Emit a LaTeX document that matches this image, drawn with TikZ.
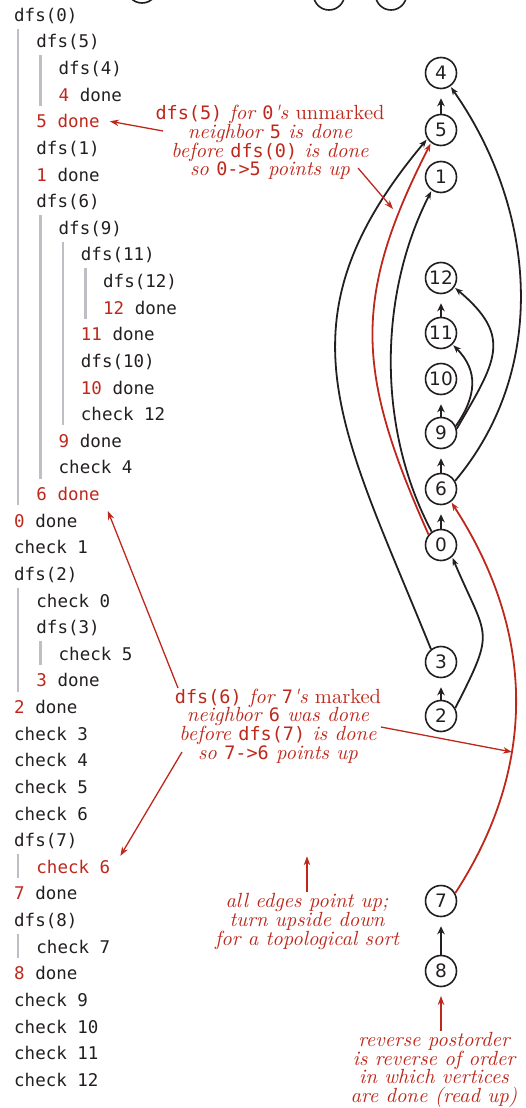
\documentclass[tikz,border=0pt]{standalone}
\usepackage{fontspec}
\setmonofont{DejaVu Sans Mono}
\newfontfamily\vertexfont{DejaVu Sans}
\newfontfamily\notefont[Extension=.otf, UprightFont=*-regular, ItalicFont=*-italic]{lmroman10}
\usetikzlibrary{arrows.meta,positioning}
\definecolor{dfsred}{RGB}{190,40,28}
\definecolor{bargray}{RGB}{190,190,196}
\definecolor{ink}{RGB}{35,31,32}
\newcommand{\redtxt}[1]{\textcolor{dfsred}{#1}}
\newcommand{\code}[1]{{\ttfamily\upshape\fontsize{18.5}{18}\selectfont #1}}

\begin{document}
\begin{tikzpicture}[
    x=1pt, y=1pt,
    vertex/.style={circle, draw=ink, line width=1.6pt, minimum size=31pt, inner sep=0pt, text=ink, font=\vertexfont\fontsize{18.5}{18.5}\selectfont},
    trace/.style={anchor=base west, inner sep=0pt, text=ink, font=\ttfamily\fontsize{17.5}{20}\selectfont},
    callbar/.style={draw=bargray, line width=2.5pt},
    dagedge/.style={draw=ink, line width=1.8pt, -{Stealth[length=8pt,width=6pt]}, shorten >=1pt},
    upedge/.style={dagedge, line width=2.8pt, -{Stealth[length=8pt,width=7.5pt]}, shorten >=9pt},
    rededge/.style={dagedge, draw=dfsred},
    note/.style={align=center, inner sep=1pt, text=dfsred, font=\notefont\fontsize{20.5}{18.8}\selectfont\itshape},
    pointer/.style={draw=dfsred, line width=1.3pt, -{Stealth[length=9pt,width=6.5pt]}}
]
\useasboundingbox (0,0) rectangle (526,-1108);

% Cut-off vertices of the figure above
\begin{scope}
\clip (0,0) rectangle (526,-30);
\foreach \x/\y in {142/12.5, 329/5.5, 391/5.5}
    \draw[ink, line width=1.6pt] (\x,\y) circle (15.5pt);
\end{scope}

% Trace of the calls
\foreach \lv/\txt [count=\i from 0] in {
    0/dfs(0), 1/dfs(5), 2/dfs(4), 2/{\redtxt{4} done}, 1/{\redtxt{5 done}},
    1/dfs(1), 1/{\redtxt{1} done}, 1/dfs(6), 2/dfs(9), 3/dfs(11), 4/dfs(12),
    4/{\redtxt{12} done}, 3/{\redtxt{11} done}, 3/dfs(10), 3/{\redtxt{10} done},
    3/check 12, 2/{\redtxt{9} done}, 2/check 4, 1/{\redtxt{6 done}},
    0/{\redtxt{0} done}, 0/check 1, 0/dfs(2), 1/check 0, 1/dfs(3), 2/check 5,
    1/{\redtxt{3} done}, 0/{\redtxt{2} done}, 0/check 3, 0/check 4, 0/check 5,
    0/check 6, 0/dfs(7), 1/{\redtxt{check 6}}, 0/{\redtxt{7} done}, 0/dfs(8),
    1/check 7, 0/{\redtxt{8} done}, 0/check 9, 0/check 10, 0/check 11, 0/check 12}
    \node[trace] (t\i) at ({14+22.25*\lv},{-21.3-26.625*\i}) {\txt};

% Call bars
\foreach \lv/\a/\b in {0/1/18, 1/2/3, 1/8/17, 2/9/15, 3/10/11, 0/22/25, 1/24/24, 0/32/32, 0/35/35}
    \draw[callbar] ({18+22.5*\lv},{-2-26.625*\a}) -- ({18+22.5*\lv},{-26-26.625*\b});

% Vertices in postorder
\foreach \v/\y in {4/73, 5/130, 1/177, 12/278, 11/333, 10/379, 9/433, 6/489, 0/545, 3/662, 2/716, 7/901, 8/971}
    \node[vertex] (n\v) at (441,-\y) {\v};

% Edges
\foreach \a/\b in {5/4, 11/12, 9/10, 6/9, 0/6, 2/3, 8/7}
    \draw[upedge] (n\a) -- (n\b);
\draw[dagedge] (n6.30) to[out=50, in=-55, looseness=0.96] (n4.-55);
\draw[dagedge] (n9.15) to[out=60, in=-40, looseness=1.4] (n12.-35);
\draw[dagedge] (n9.25) to[out=55, in=-45, looseness=1.15] (n11.-45);
\draw[dagedge] (n0.125) to[out=118, in=243, looseness=0.88] (n1.235);
\draw[dagedge] (n3.128) to[out=112, in=230, looseness=1.2] (n5.213);
\draw[dagedge] (n2.29) to[out=63, in=-67, looseness=1.53] (n0.-47);
\draw[rededge] (n0.140) to[out=114, in=243, looseness=1.15] (n5.232);
\draw[rededge] (n7.29) to[out=57, in=-57, looseness=1.0] (n6.-52);

% Notes
\node[note] (why5) at (270,-142.5) {\code{dfs(5)} for \code{0}'s \upshape unmarked\\
    neighbor \code{5} is done\\ before \code{dfs(0)} is done\\ so \code{0->5} points up};
\node[note] (why6) at (278,-726) {\code{dfs(6)} for \code{7}'s \upshape marked\\
    neighbor \code{6} was done\\ before \code{dfs(7)} is done\\ so \code{7->6} points up};
\node[note] (upnote) at (307,-921.5) {all edges point up;\\ turn upside down\\ for a topological sort};
\node[note] (rpost) at (434,-1070) {reverse postorder\\ is reverse of order\\ in which vertices\\ are done (read up)};

% Pointers
\draw[pointer] ([shift={(-107,11.5)}]why5.center) -- ([xshift=10pt]t4.east);
\draw[pointer] ([shift={(88,-25.5)}]why5.center) -- ++(35,-41);
\draw[pointer] ([shift={(-100,38)}]why6.center) -- ([shift={(8,-10)}]t18.south east);
\draw[pointer] ([shift={(-96,-26)}]why6.center) -- ([shift={(10,4)}]t32.north east);
\draw[pointer] ([shift={(103,-1)}]why6.center) -- ++(131,-25);
\draw[pointer] (upnote.north) -- ++(0,36);
\draw[pointer] (rpost.north -| n8) -- ++(0,35);

\end{tikzpicture}
\end{document}
